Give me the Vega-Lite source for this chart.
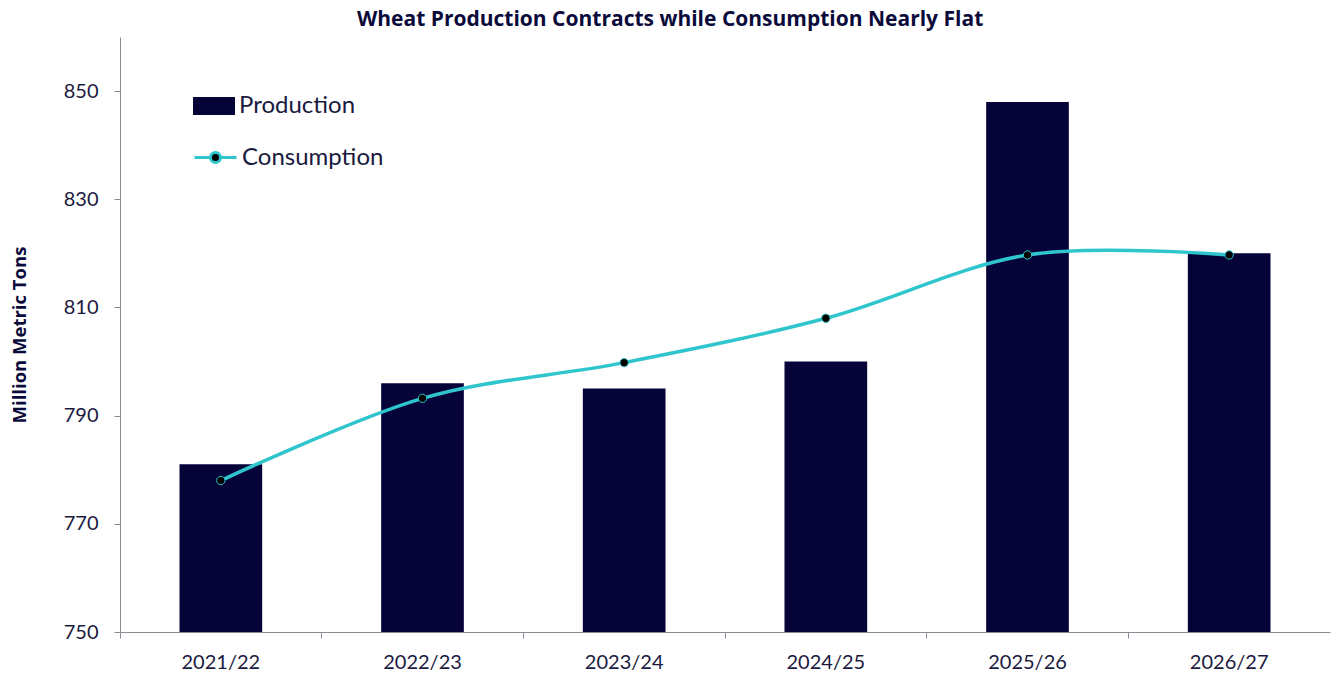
{
  "$schema": "https://vega.github.io/schema/vega-lite/v6.json",
  "autosize": {"type": "none"},
  "width": 1210,
  "height": 595,
  "padding": {"left": 120, "top": 37, "right": 5, "bottom": 47},
  "background": "white",
  "title": {
    "text": "Wheat Production Contracts while Consumption Nearly Flat",
    "fontSize": 21,
    "font": "Open Sans",
    "fontWeight": "bold",
    "color": "#0b0b3b",
    "anchor": "middle",
    "frame": "bounds",
    "offset": 7
  },
  "config": {
    "view": {"stroke": null},
    "font": "Lato"
  },
  "data": {
    "values": [
      {"year": "2021/22", "production": 781, "consumption": 778},
      {"year": "2022/23", "production": 796, "consumption": 793.2},
      {"year": "2023/24", "production": 795, "consumption": 799.8},
      {"year": "2024/25", "production": 800, "consumption": 808},
      {"year": "2025/26", "production": 848, "consumption": 819.7},
      {"year": "2026/27", "production": 820, "consumption": 819.7}
    ]
  },
  "encoding": {
    "x": {
      "field": "year",
      "type": "nominal",
      "sort": null,
      "scale": {"paddingInner": 0, "paddingOuter": 0},
      "axis": {
        "title": null,
        "labelAngle": 0,
        "labelFontSize": 20,
        "labelColor": "#1a1a40",
        "labelPadding": 14,
        "domainColor": "#8a8a95",
        "tickColor": "#8a8a95",
        "tickSize": 6,
        "bandPosition": 0,
        "grid": false
      }
    }
  },
  "layer": [
    {
      "mark": {"type": "bar", "width": {"band": 0.41}, "clip": true},
      "encoding": {
        "y": {
          "field": "production",
          "type": "quantitative",
          "scale": {"domain": [750, 860], "nice": false, "zero": false},
          "axis": {
            "title": "Million Metric Tons",
            "titleFont": "Open Sans",
            "titleFontSize": 18.5,
            "titleFontWeight": "bold",
            "titleColor": "#0b0b3b",
            "titlePadding": 34,
            "values": [750, 770, 790, 810, 830, 850],
            "labelFontSize": 20,
            "labelColor": "#1a1a40",
            "labelPadding": 16,
            "domainColor": "#8a8a95",
            "tickColor": "#8a8a95",
            "tickSize": 6,
            "grid": false
          }
        },
        "fill": {
          "datum": "Production",
          "scale": {"range": ["#060338"]},
          "legend": {
            "title": null,
            "orient": "none",
            "legendX": 73,
            "legendY": 48,
            "symbolType": "M-1,-0.43H1V0.43H-1Z",
            "symbolSize": 1764,
            "symbolStrokeWidth": 0,
            "labelFontSize": 24,
            "labelColor": "#1a1a40",
            "labelOffset": 4
          }
        }
      }
    },
    {
      "mark": {"type": "line", "interpolate": "cardinal", "strokeWidth": 3.5},
      "encoding": {
        "y": {"field": "consumption", "type": "quantitative"},
        "stroke": {
          "datum": "Consumption",
          "scale": {"range": ["#2ec5cc"]},
          "legend": {
            "title": null,
            "orient": "none",
            "legendX": 73,
            "legendY": 98,
            "symbolType": "M-1,0H-0.24M0.24,0H1M-0.24,0A0.24,0.24,0,1,1,0.24,0A0.24,0.24,0,1,1,-0.24,0Z",
            "symbolSize": 1764,
            "symbolStrokeWidth": 3,
            "symbolFillColor": "#000000",
            "labelFontSize": 24,
            "labelColor": "#1a1a40",
            "labelOffset": 4,
            "encode": {"symbols": {"update": {"fill": {"value": "#000000"}, "fillOpacity": {"value": 1}}}}
          }
        }
      }
    },
    {
      "mark": {"type": "point", "filled": true, "fill": "#000000", "stroke": "#2ec5cc", "strokeWidth": 1, "size": 70, "opacity": 1},
      "encoding": {
        "y": {"field": "consumption", "type": "quantitative"}
      }
    }
  ]
}
